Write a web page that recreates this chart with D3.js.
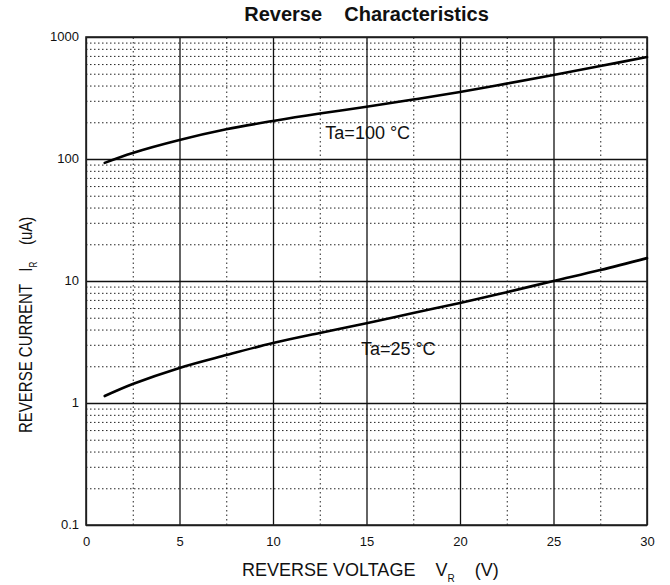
<!DOCTYPE html>
<html>
<head>
<meta charset="utf-8">
<script src="https://cdn.jsdelivr.net/npm/d3@7"></script>
<style>
  body { margin: 0; background: #fff; }
  text { font-family: "Liberation Sans", Arial, sans-serif; fill: #111; }
</style>
</head>
<body>
<div class="rev_plot"></div>
<script>
// values (uA)
const voltage    = [1, 2.5, 5, 7.5, 10, 12.5, 15, 17.5, 20, 22.5, 25, 27.5, 30];
const current100 = [93, 112, 143, 175, 205, 236, 268, 307, 354, 415, 489, 578, 685];
const current25  = [1.14, 1.43, 1.94, 2.47, 3.1, 3.75, 4.5, 5.47, 6.6, 8.1, 10, 12.3, 15.4];

const xTicks = [0, 5, 10, 15, 20, 25, 30];
const xMinorTicks = [2.5, 7.5, 12.5, 17.5, 22.5, 27.5];
const yTicks = [0.1, 1, 10, 100, 1000];
const yTickLabels = ['0.1', '1', '10', '100', '1000'];
const yMinorDigits = [2, 3, 4, 5, 6, 7, 8, 9];

const margin = {top: 37, right: 23, bottom: 60, left: 86};
const width = 670 - margin.left - margin.right,
      height = 585 - margin.top - margin.bottom;

const xScale = d3.scaleLinear().domain([0, 30]).range([0, width]);
const yScale = d3.scaleLog().domain([0.1, 1000]).range([height, 0]);

const svg = d3.select('.rev_plot')
              .append('svg')
              .attr('width', 670)
              .attr('height', 585)
              .append('g')
              .attr('transform', `translate(${margin.left},${margin.top})`);

// minor grid, dotted
const yMinor = [];
yTicks.slice(0, -1).forEach(t => yMinorDigits.forEach(d => yMinor.push(t * d)));

svg.append('g')
   .attr('class', 'grid y-minor')
   .call(d3.axisLeft(yScale).tickValues(yMinor).tickSize(-width).tickFormat(''))
   .call(g => g.select('.domain').remove())
   .selectAll('line')
   .attr('stroke', '#222')
   .attr('stroke-width', 1)
   .attr('stroke-dasharray', '1.5,2.5');

svg.append('g')
   .attr('class', 'grid x-minor')
   .attr('transform', `translate(0,${height})`)
   .call(d3.axisBottom(xScale).tickValues(xMinorTicks).tickSize(-height).tickFormat(''))
   .call(g => g.select('.domain').remove())
   .selectAll('line')
   .attr('stroke', '#222')
   .attr('stroke-width', 1)
   .attr('stroke-dasharray', '1.5,3');

// major grid, solid
svg.append('g')
   .attr('class', 'grid y-major')
   .call(d3.axisLeft(yScale).tickValues(yTicks).tickSize(-width).tickFormat(''))
   .call(g => g.select('.domain').remove())
   .selectAll('line')
   .attr('stroke', '#111')
   .attr('stroke-width', 1.3);

svg.append('g')
   .attr('class', 'grid x-major')
   .attr('transform', `translate(0,${height})`)
   .call(d3.axisBottom(xScale).tickValues(xTicks).tickSize(-height).tickFormat(''))
   .call(g => g.select('.domain').remove())
   .selectAll('line')
   .attr('stroke', '#111')
   .attr('stroke-width', 1.3);

// frame
svg.append('rect')
   .attr('width', width)
   .attr('height', height)
   .attr('fill', 'none')
   .attr('stroke', '#222')
   .attr('stroke-width', 1.6);

// tick labels
const xAxis = d3.axisBottom(xScale).tickValues(xTicks).tickSize(0).tickPadding(12);
svg.append('g')
   .attr('class', 'axis x-axis')
   .attr('transform', `translate(0,${height})`)
   .call(xAxis)
   .call(g => g.select('.domain').remove())
   .selectAll('text')
   .attr('font-size', 13)
   .attr('font-family', '"Liberation Sans", Arial, sans-serif');

const yAxis = d3.axisLeft(yScale).tickValues(yTicks).tickSize(0).tickPadding(7)
                .tickFormat((d, i) => yTickLabels[i]);
svg.append('g')
   .attr('class', 'axis y-axis')
   .call(yAxis)
   .call(g => g.select('.domain').remove())
   .selectAll('text')
   .attr('font-size', 13)
   .attr('dy', '0.25em')
   .attr('font-family', '"Liberation Sans", Arial, sans-serif');

// curves
const line = d3.line()
               .x(d => xScale(d[0]))
               .y(d => yScale(d[1]))
               .curve(d3.curveCatmullRom.alpha(0.5));

[current100, current25].forEach(series => {
  svg.append('path')
     .datum(voltage.map((v, i) => [v, series[i]]))
     .attr('fill', 'none')
     .attr('stroke', '#000')
     .attr('stroke-width', 2.6)
     .attr('stroke-linecap', 'round')
     .attr('d', line);
});

// curve labels
svg.append('text')
   .attr('x', xScale(12.8))
   .attr('y', yScale(100) - 20)
   .attr('font-size', 18)
   .text('Ta=100 °C');

svg.append('text')
   .attr('x', xScale(14.7))
   .attr('y', yScale(1) - 48)
   .attr('font-size', 18)
   .text('Ta=25 °C');

// title
svg.append('text')
   .attr('x', width / 2)
   .attr('y', -16)
   .attr('text-anchor', 'middle')
   .attr('font-size', 20)
   .attr('font-weight', 'bold')
   .style('white-space', 'pre')
   .text('Reverse    Characteristics');

// x axis title
const xLabel = svg.append('text')
                  .attr('x', 156)
                  .attr('y', height + 51)
                  .attr('font-size', 18)
                  .style('white-space', 'pre');
xLabel.append('tspan').text('REVERSE VOLTAGE    V');
xLabel.append('tspan').attr('font-size', 10).attr('dy', 6).text('R');
xLabel.append('tspan').attr('dy', -6).text('    (V)');

// y axis title
const yLabel = svg.append('text')
                  .attr('transform', `translate(${32 - margin.left},${433 - margin.top}) rotate(-90) scale(1,1.25)`)
                  .attr('font-size', 15)
                  .style('white-space', 'pre');
yLabel.append('tspan').text('REVERSE CURRENT   I');
yLabel.append('tspan').attr('font-size', 8).attr('dy', 4).text('R');
yLabel.append('tspan').attr('dy', -4).text('    (uA)');
</script>
</body>
</html>
